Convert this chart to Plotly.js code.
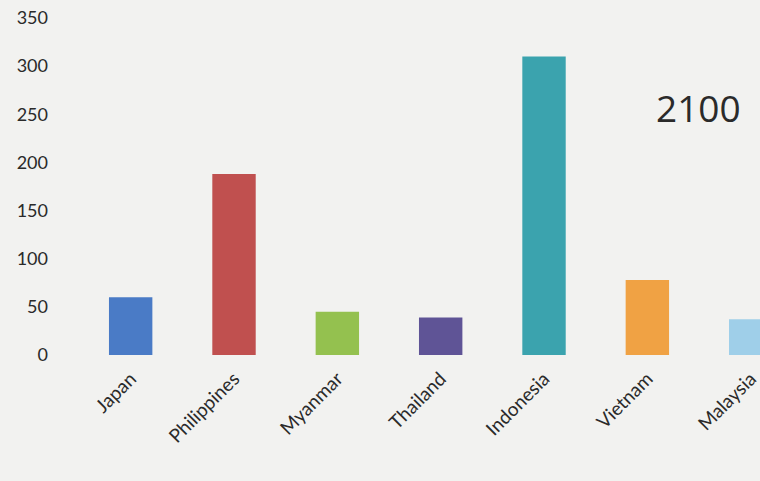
<!DOCTYPE html>
<html>
<head>
<meta charset="utf-8">
<script src="https://cdn.plot.ly/plotly-3.0.1.min.js"></script>
<style>html,body{margin:0;padding:0;background:#f2f2f0;}</style>
</head>
<body>
<div id="chart" style="width:760px;height:481px;"></div>
<script>
const countries = ["Japan","Philippines","Myanmar","Thailand","Indonesia","Vietnam","Malaysia"];
const values = [60, 188, 45, 39, 310, 78, 37];
const barColors = ["#4a7bc6","#c0504f","#94c14f","#5f5496","#3ba3ae","#f0a244","#9fcfe9"];
const yTicks = [0, 50, 100, 150, 200, 250, 300, 350];
const yearLabel = "2100";

const trace = {
  type: "bar",
  x: countries,
  y: values,
  marker: {color: barColors, line: {width: 0}},
  hoverinfo: "x+y"
};

const layout = {
  width: 760,
  height: 481,
  paper_bgcolor: "#f2f2f0",
  plot_bgcolor: "#f2f2f0",
  margin: {l: 79, r: 0, t: 18, b: 126},
  bargap: 0.58,
  showlegend: false,
  xaxis: {
    type: "category",
    range: [-0.5, 6.09],
    tickangle: -45,
    showgrid: false,
    zeroline: false,
    showline: false,
    ticks: "",
    ticklabelstandoff: 8,
    ticklabelshift: 0,
    tickfont: {family: "Lato, 'Open Sans', sans-serif", size: 19, color: "#2a2a2a"}
  },
  yaxis: {
    range: [0, 350],
    tickvals: yTicks,
    ticktext: yTicks.map(String),
    showgrid: false,
    zeroline: false,
    showline: false,
    ticks: "",
    ticklabelstandoff: 30,
    tickfont: {family: "Lato, 'Open Sans', sans-serif", size: 18, color: "#2a2a2a"}
  },
  annotations: [{
    text: yearLabel,
    xref: "paper", yref: "paper",
    x: 0.91, y: 0.733,
    xanchor: "center", yanchor: "middle",
    showarrow: false,
    font: {family: "'Open Sans', Lato, sans-serif", size: 37, color: "#2a2a2a"}
  }]
};

Plotly.newPlot("chart", [trace], layout, {displayModeBar: false, staticPlot: true});
</script>
</body>
</html>
